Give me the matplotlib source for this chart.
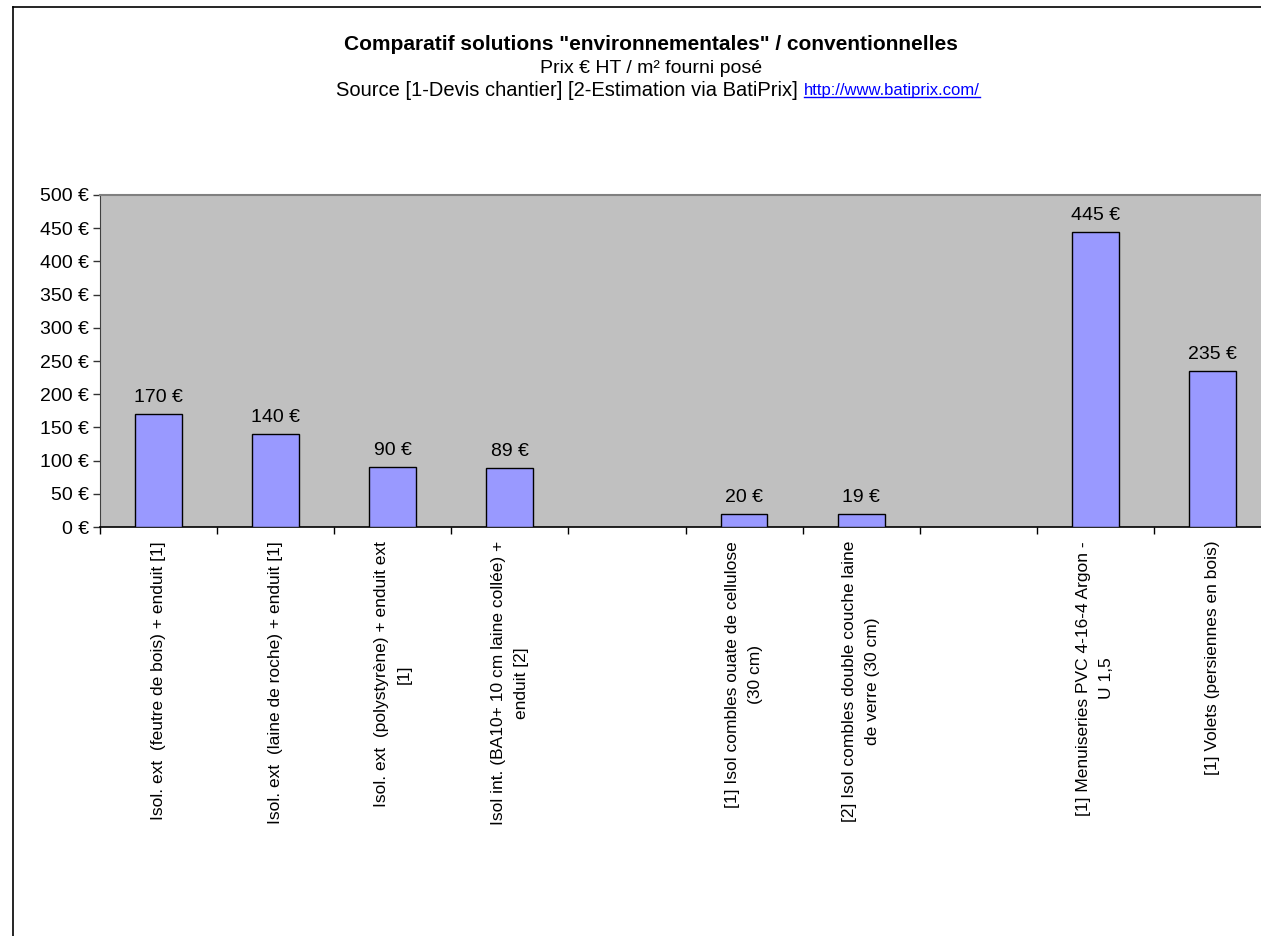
import numpy as np
import matplotlib
matplotlib.use("Agg")
import matplotlib.pyplot as plt
from matplotlib.lines import Line2D

plt.rcParams['font.family'] = ['Liberation Sans', 'DejaVu Sans']

categories = [
    "Isol. ext  (feutre de bois) + enduit [1]",
    "Isol. ext  (laine de roche) + enduit [1]",
    "Isol. ext  (polystyrène) + enduit ext\n[1]",
    "Isol int. (BA10+ 10 cm laine collée) +\nenduit [2]",
    "",
    "[1] Isol combles ouate de cellulose\n(30 cm)",
    "[2] Isol combles double couche laine\nde verre (30 cm)",
    "",
    "[1] Menuiseries PVC 4-16-4 Argon -\nU 1,5",
    "[1] Volets (persiennes en bois)",
]
values = [170, 140, 90, 89, np.nan, 20, 19, np.nan, 445, 235]
yticks = [0, 50, 100, 150, 200, 250, 300, 350, 400, 450, 500]

W, H = 1261, 936
fig = plt.figure(figsize=(W / 100, H / 100), dpi=100)
fig.patch.set_facecolor('white')

# chart frame (cropped on right/bottom)
fig.add_artist(Line2D([12.5 / W, 12.5 / W], [0, 1 - 6.5 / H], color='black', lw=1.2))
fig.add_artist(Line2D([12.5 / W, 1], [1 - 6.5 / H, 1 - 6.5 / H], color='black', lw=1.2))

left, right, top, bottom = 100, 1271, 195, 527
ax = fig.add_axes([left / W, 1 - bottom / H, (right - left) / W, (bottom - top) / H])
ax.set_facecolor('#C0C0C0')

x = np.arange(len(categories))
vals = np.array(values, dtype=float)
mask = ~np.isnan(vals)
ax.bar(x[mask], vals[mask], width=0.40, color='#9999FF', edgecolor='black', linewidth=1.0, zorder=3)
for xi, v in zip(x[mask], vals[mask]):
    ax.annotate(f"{int(v)} €", (xi, v), xytext=(0, 8), textcoords='offset pixels',
                ha='center', va='bottom', fontsize=14, color='black')

ax.set_xlim(-0.5, len(categories) - 0.5)
ax.set_ylim(0, 500)
ax.set_yticks(yticks)
ax.set_yticklabels([f"{t} €" for t in yticks], fontsize=14)

ax.set_xticks(x)
ax.set_xticklabels(categories, rotation=90, fontsize=12.5, ha='center', va='top',
                   multialignment='center')
for lab in ax.get_xticklabels():
    lab.set_linespacing(1.65)
ax.set_xticks(np.arange(-0.5, len(categories)), minor=True)
ax.tick_params(axis='x', which='major', length=0, pad=10)
ax.tick_params(axis='x', which='minor', length=5, width=1, color='black', direction='out')
ax.tick_params(axis='y', length=5, width=1, color='#333333', pad=3)

for s in ['top', 'right']:
    ax.spines[s].set_color('#808080')
    ax.spines[s].set_linewidth(1.5)
ax.spines['left'].set_color('#404040')
ax.spines['bottom'].set_color('black')
ax.spines['bottom'].set_linewidth(1.2)

cx = 651 / W
fig.text(cx, 1 - 45 / H, 'Comparatif solutions "environnementales" / conventionnelles',
         ha='center', va='center', fontsize=15, fontweight='bold')
fig.text(cx, 1 - 68.5 / H, 'Prix € HT / m² fourni posé', ha='center', va='center', fontsize=14)
fig.text(798 / W, 1 - 90 / H, 'Source [1-Devis chantier] [2-Estimation via BatiPrix]',
         ha='right', va='center', fontsize=14.5)
url = fig.text(804 / W, 1 - 90 / H, 'http://www.batiprix.com/', ha='left', va='center',
               fontsize=12, color='#0000FF')
fig.canvas.draw()
bb = url.get_window_extent()
fig.add_artist(Line2D([bb.x0 / W, bb.x1 / W], [(bb.y0 + 1) / H, (bb.y0 + 1) / H],
                      color='#0000FF', lw=1))

fig.savefig('out.png', dpi=100)
